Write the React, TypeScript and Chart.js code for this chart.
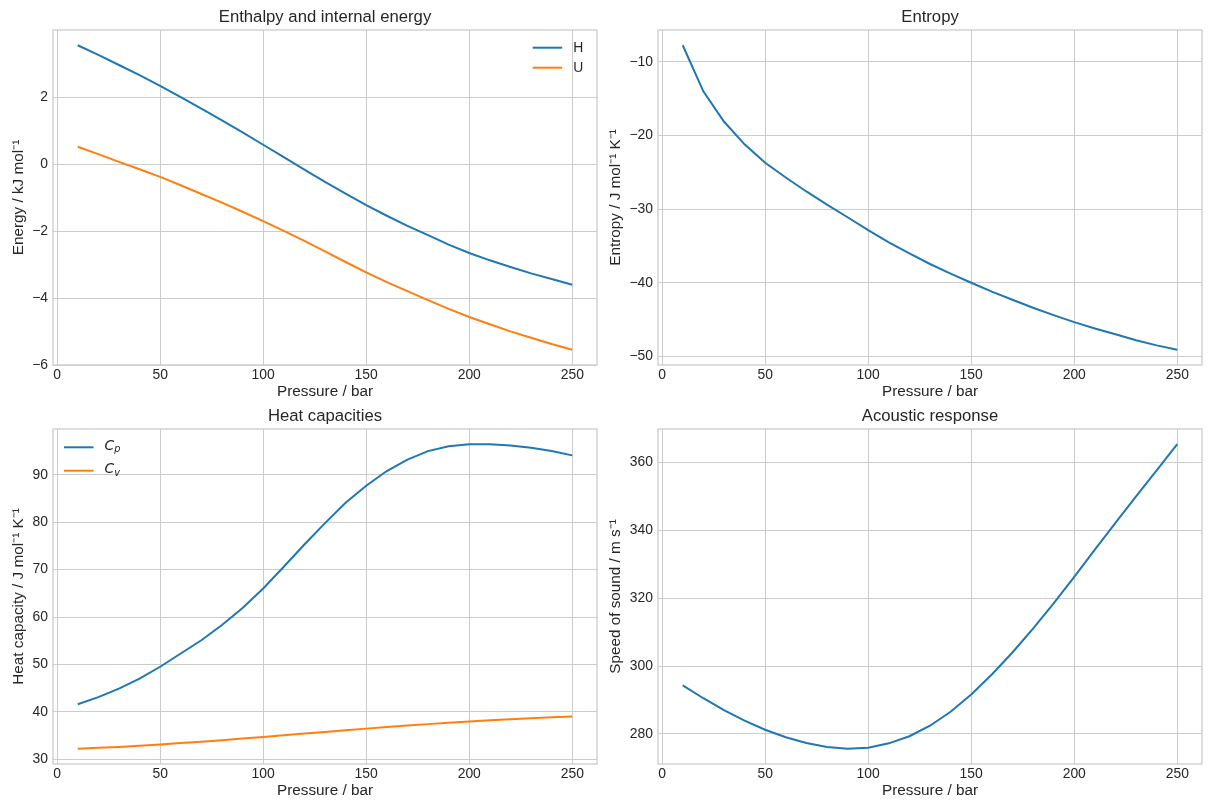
import { useEffect, useRef } from "react";
import { Chart, registerables } from "chart.js";

Chart.register(...registerables);

// Pressure grid (bar)
const pressure = [10, 20, 30, 40, 50, 60, 70, 80, 90, 100, 110, 120, 130, 140, 150, 160, 170, 180, 190, 200, 210, 220, 230, 240, 250];

// Enthalpy H and internal energy U (kJ/mol)
const enthalpy = [3.55, 3.26, 2.96, 2.66, 2.34, 2.0, 1.66, 1.31, 0.95, 0.58, 0.21, -0.16, -0.53, -0.88, -1.22, -1.54, -1.84, -2.12, -2.4, -2.65, -2.87, -3.07, -3.26, -3.43, -3.6];
const internalEnergy = [0.52, 0.3, 0.07, -0.15, -0.38, -0.63, -0.89, -1.15, -1.42, -1.7, -1.99, -2.29, -2.6, -2.92, -3.23, -3.52, -3.79, -4.06, -4.32, -4.56, -4.78, -4.99, -5.18, -5.37, -5.54];

// Entropy (J/mol/K)
const entropy = [-7.74, -14.0, -18.1, -21.2, -23.7, -25.7, -27.6, -29.4, -31.1, -32.85, -34.5, -36.0, -37.45, -38.75, -40.0, -41.2, -42.3, -43.4, -44.4, -45.35, -46.2, -47.0, -47.8, -48.5, -49.1];

// Heat capacities Cp and Cv (J/mol/K)
const cp = [41.6, 43.1, 44.9, 47.0, 49.5, 52.3, 55.1, 58.3, 61.9, 66.0, 70.6, 75.3, 79.8, 84.1, 87.7, 90.8, 93.2, 95.0, 96.0, 96.45, 96.45, 96.2, 95.7, 95.0, 94.1];
const cv = [32.2, 32.4, 32.6, 32.85, 33.1, 33.4, 33.7, 34.0, 34.35, 34.7, 35.05, 35.4, 35.75, 36.1, 36.45, 36.8, 37.1, 37.4, 37.7, 37.95, 38.2, 38.45, 38.65, 38.85, 39.0];

// Speed of sound (m/s)
const soundSpeed = [294.3, 290.5, 287.0, 283.9, 281.2, 279.0, 277.3, 276.1, 275.6, 275.9, 277.2, 279.3, 282.4, 286.5, 291.6, 297.5, 304.0, 311.0, 318.5, 326.3, 334.3, 342.2, 350.0, 357.7, 365.4];

// Tick values
const pressureTicks = [0, 50, 100, 150, 200, 250];
const energyTicks = [-6, -4, -2, 0, 2];
const entropyTicks = [-50, -40, -30, -20, -10];
const heatTicks = [30, 40, 50, 60, 70, 80, 90];
const soundTicks = [280, 300, 320, 340, 360];

const FONT = "'Liberation Sans', Arial, Helvetica, sans-serif";
const MATH_FONT = "'DejaVu Sans', sans-serif";
const TEXT = "#262626";
const GRID = "#cccccc";
const BLUE = "#1f77b4";
const ORANGE = "#ff7f0e";

const TICK_SIZE = 13.9;
const LABEL_SIZE = 15.3;
const TITLE_SIZE = 16.7;

interface SeriesSpec {
  name: string;
  sub?: string;
  values: number[];
  color: string;
}

interface PanelSpec {
  id: string;
  title: string;
  yTitle: string;
  yTicks: number[];
  series: SeriesSpec[];
  legend: "left" | "right" | null;
  canvas: { left: number; top: number; width: number; height: number };
  area: { left: number; top: number; right: number; bottom: number };
  yTitleCenter: number; // from canvas left
  xTitleCenter: number; // from canvas bottom
}

const panels: PanelSpec[] = [
  {
    id: "energy",
    title: "Enthalpy and internal energy",
    yTitle: "Energy / kJ mol\u207B\u00B9",
    yTicks: energyTicks,
    series: [
      { name: "H", values: enthalpy, color: BLUE },
      { name: "U", values: internalEnergy, color: ORANGE },
    ],
    legend: "right",
    canvas: { left: 0, top: 0, width: 605, height: 405 },
    area: { left: 53, top: 30, right: 597, bottom: 365 },
    yTitleCenter: 18.6,
    xTitleCenter: 13,
  },
  {
    id: "entropy",
    title: "Entropy",
    yTitle: "Entropy / J mol\u207B\u00B9 K\u207B\u00B9",
    yTicks: entropyTicks,
    series: [{ name: "S", values: entropy, color: BLUE }],
    legend: null,
    canvas: { left: 605, top: 0, width: 606, height: 405 },
    area: { left: 53, top: 30, right: 597, bottom: 365 },
    yTitleCenter: 10.9,
    xTitleCenter: 13,
  },
  {
    id: "heat",
    title: "Heat capacities",
    yTitle: "Heat capacity / J mol\u207B\u00B9 K\u207B\u00B9",
    yTicks: heatTicks,
    series: [
      { name: "C", sub: "p", values: cp, color: BLUE },
      { name: "C", sub: "v", values: cv, color: ORANGE },
    ],
    legend: "left",
    canvas: { left: 0, top: 405, width: 605, height: 406 },
    area: { left: 53, top: 24, right: 597, bottom: 359 },
    yTitleCenter: 18.6,
    xTitleCenter: 20,
  },
  {
    id: "sound",
    title: "Acoustic response",
    yTitle: "Speed of sound / m s\u207B\u00B9",
    yTicks: soundTicks,
    series: [{ name: "w", values: soundSpeed, color: BLUE }],
    legend: null,
    canvas: { left: 605, top: 405, width: 606, height: 406 },
    area: { left: 53, top: 24, right: 597, bottom: 359 },
    yTitleCenter: 10.9,
    xTitleCenter: 20,
  },
];

const fmt = (v: number) => String(v).replace("-", "\u2212");

function paddedRange(values: number[]): [number, number] {
  const lo = Math.min(...values);
  const hi = Math.max(...values);
  const m = (hi - lo) * 0.05;
  return [lo - m, hi + m];
}

function Panel({ spec }: { spec: PanelSpec }) {
  const ref = useRef<HTMLCanvasElement | null>(null);

  useEffect(() => {
    const canvas = ref.current;
    if (!canvas) return;
    const { area, canvas: box } = spec;
    const [xMin, xMax] = paddedRange(pressure);
    const [yMin, yMax] = paddedRange(spec.series.flatMap((s) => s.values));
    const half = (size: number) => (size * 1.2) / 2;

    const decorPlugin = {
      id: "panelDecor",
      beforeDatasetsDraw(chart: Chart) {
        const { ctx, chartArea: a } = chart;
        ctx.save();
        ctx.strokeStyle = GRID;
        ctx.lineWidth = 1.3;
        ctx.strokeRect(a.left, a.top, a.right - a.left, a.bottom - a.top);
        ctx.restore();
      },
      afterDatasetsDraw(chart: Chart) {
        const { ctx, chartArea: a } = chart;
        ctx.save();
        // panel title
        ctx.fillStyle = TEXT;
        ctx.font = `${TITLE_SIZE}px ${FONT}`;
        ctx.textAlign = "center";
        ctx.textBaseline = "alphabetic";
        ctx.fillText(spec.title, (a.left + a.right) / 2, a.top - 8.3);

        // legend
        if (spec.legend) {
          const isRight = spec.legend === "right";
          const x0 = isRight ? a.right - 64.3 : a.left + 11;
          const rowTop = isRight ? 17.7 : 18.3;
          const rowGap = isRight ? 20 : 23.4;
          spec.series.forEach((s, i) => {
            const y = a.top + rowTop + i * rowGap;
            ctx.strokeStyle = s.color;
            ctx.lineWidth = 2;
            ctx.beginPath();
            ctx.moveTo(x0, y);
            ctx.lineTo(x0 + 29.5, y);
            ctx.stroke();
            ctx.fillStyle = TEXT;
            ctx.textAlign = "left";
            ctx.textBaseline = "middle";
            const tx = x0 + 40.5;
            if (s.sub) {
              ctx.font = `italic ${TICK_SIZE}px ${MATH_FONT}`;
              ctx.fillText(s.name, tx, y - 1);
              const w = ctx.measureText(s.name).width;
              ctx.font = `italic ${TICK_SIZE * 0.7}px ${MATH_FONT}`;
              ctx.fillText(s.sub, tx + w, y + 2.5);
            } else {
              ctx.font = `${TICK_SIZE}px ${FONT}`;
              ctx.fillText(s.name, tx, y);
            }
          });
        }
        ctx.restore();
      },
    };

    const chart = new Chart(canvas, {
      type: "line",
      data: {
        datasets: spec.series.map((s) => ({
          label: s.sub ? s.name + s.sub : s.name,
          data: pressure.map((p, i) => ({ x: p, y: s.values[i] })),
          borderColor: s.color,
          backgroundColor: s.color,
          borderWidth: 2,
          pointRadius: 0,
          tension: 0,
          fill: false,
        })),
      },
      options: {
        animation: false,
        responsive: false,
        devicePixelRatio: 1,
        events: [],
        layout: {
          autoPadding: false,
          padding: { left: 0, top: area.top, right: box.width - area.right, bottom: 0 },
        },
        plugins: {
          legend: { display: false },
          title: { display: false },
          tooltip: { enabled: false },
        },
        scales: {
          x: {
            type: "linear",
            min: xMin,
            max: xMax,
            afterBuildTicks: (scale: any) => {
              scale.ticks = pressureTicks.map((v) => ({ value: v }));
            },
            afterFit: (scale: any) => {
              scale.height = box.height - area.bottom;
            },
            grid: { color: GRID, lineWidth: 1, drawTicks: false },
            border: { display: false },
            ticks: {
              autoSkip: false,
              maxRotation: 0,
              padding: 2,
              color: TEXT,
              font: { family: FONT, size: TICK_SIZE },
              callback: (v: any) => fmt(Number(v)),
            },
            title: {
              display: true,
              text: "Pressure / bar",
              color: TEXT,
              font: { family: FONT, size: LABEL_SIZE },
              padding: { top: 0, bottom: spec.xTitleCenter - half(LABEL_SIZE) },
            },
          },
          y: {
            type: "linear",
            min: yMin,
            max: yMax,
            afterBuildTicks: (scale: any) => {
              scale.ticks = spec.yTicks.map((v) => ({ value: v }));
            },
            afterFit: (scale: any) => {
              scale.width = area.left;
            },
            grid: { color: GRID, lineWidth: 1, drawTicks: false },
            border: { display: false },
            ticks: {
              autoSkip: false,
              padding: 5,
              color: TEXT,
              font: { family: FONT, size: TICK_SIZE },
              callback: (v: any) => fmt(Number(v)),
            },
            title: {
              display: true,
              text: spec.yTitle,
              color: TEXT,
              font: { family: FONT, size: LABEL_SIZE },
              padding: { top: spec.yTitleCenter - half(LABEL_SIZE), bottom: 0 },
            },
          },
        },
      },
      plugins: [decorPlugin],
    } as any);

    return () => chart.destroy();
  }, [spec]);

  return (
    <canvas
      ref={ref}
      width={spec.canvas.width}
      height={spec.canvas.height}
      style={{
        position: "absolute",
        left: spec.canvas.left,
        top: spec.canvas.top,
        width: spec.canvas.width,
        height: spec.canvas.height,
        display: "block",
      }}
    />
  );
}

export default function App() {
  return (
    <div
      style={{
        position: "fixed",
        left: 0,
        top: 0,
        width: 1211,
        height: 811,
        background: "#ffffff",
        overflow: "hidden",
      }}
    >
      {panels.map((p) => (
        <Panel key={p.id} spec={p} />
      ))}
    </div>
  );
}
